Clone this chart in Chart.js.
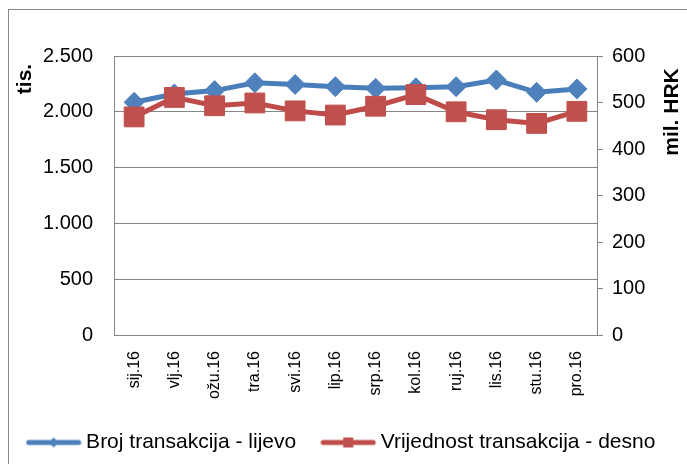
<!DOCTYPE html>
<html>
<head>
<meta charset="utf-8">
<script src="https://cdn.jsdelivr.net/npm/chart.js@4.4.1/dist/chart.umd.min.js"></script>
<style>
  html, body { margin: 0; padding: 0; background: #fff; }
  #wrap { width: 687px; height: 464px; position: relative; }
</style>
</head>
<body>
<div id="wrap"><canvas id="chart" width="687" height="464"></canvas></div>
<script>
// data
const months = ['sij.16', 'vlj.16', 'ožu.16', 'tra.16', 'svi.16', 'lip.16', 'srp.16', 'kol.16', 'ruj.16', 'lis.16', 'stu.16', 'pro.16'];
const brojTransakcija = [2085, 2160, 2190, 2260, 2245, 2225, 2210, 2215, 2225, 2285, 2175, 2205];
const vrijednostTransakcija = [469, 511, 493, 499, 482, 473, 492, 517, 480, 463, 455, 481];
const leftTicks = [0, 500, 1000, 1500, 2000, 2500];
const rightTicks = [0, 100, 200, 300, 400, 500, 600];

const FONT = '"Liberation Sans", Arial, sans-serif';
const GRID = '#868686';
const BLUE_LINE = '#4A7EBB', BLUE_FILL = '#4F81BD';
const RED_LINE = '#BE4B48', RED_FILL = '#C0504D';

function thousands(v) {
    return String(v).replace(/\B(?=(\d{3})+(?!\d))/g, '.');
}

// little line + marker images for the legend (Excel style)
function legendSwatch(color, fill, shape) {
    const c = document.createElement('canvas');
    c.width = 56; c.height = 14;
    const g = c.getContext('2d');
    g.strokeStyle = color;
    g.lineWidth = 5;
    g.lineCap = 'round';
    g.beginPath();
    g.moveTo(3, 7);
    g.lineTo(53, 7);
    g.stroke();
    g.fillStyle = fill;
    g.beginPath();
    if (shape === 'diamond') {
        g.moveTo(28, 2); g.lineTo(33, 7); g.lineTo(28, 12); g.lineTo(23, 7);
    } else {
        g.rect(23, 2, 10, 10);
    }
    g.closePath();
    g.fill();
    return c;
}
const blueSwatch = legendSwatch(BLUE_LINE, BLUE_FILL, 'diamond');
const redSwatch = legendSwatch(RED_LINE, RED_FILL, 'square');

const frame = {
    id: 'frame',
    beforeDraw(chart) {
        const ctx = chart.ctx;
        ctx.save();
        ctx.strokeStyle = GRID;
        ctx.lineWidth = 1;
        ctx.strokeRect(8.5, 9.5, 760, 520);
        ctx.restore();
    }
};

const axisTitles = {
    id: 'axisTitles',
    afterDraw(chart) {
        const ctx = chart.ctx;
        ctx.save();
        ctx.fillStyle = '#000';
        ctx.font = 'bold 21px ' + FONT;
        ctx.textAlign = 'center';
        ctx.textBaseline = 'middle';
        ctx.translate(25, 79);
        ctx.rotate(-Math.PI / 2);
        ctx.fillText('tis.', 0, 0);
        ctx.restore();

        ctx.save();
        ctx.fillStyle = '#000';
        ctx.font = 'bold 21px ' + FONT;
        ctx.textAlign = 'center';
        ctx.textBaseline = 'middle';
        ctx.translate(672, 112);
        ctx.rotate(-Math.PI / 2);
        ctx.fillText('mil. HRK', 0, 0);
        ctx.restore();
    }
};

new Chart(document.getElementById('chart'), {
    type: 'line',
    data: {
        labels: months,
        datasets: [{
            label: 'Broj transakcija - lijevo',
            data: brojTransakcija,
            yAxisID: 'y',
            borderColor: BLUE_LINE,
            backgroundColor: BLUE_FILL,
            borderWidth: 5,
            pointStyle: 'rectRot',
            pointRadius: 10,
            pointBorderWidth: 1,
            pointBorderColor: BLUE_FILL,
            pointBackgroundColor: BLUE_FILL,
            tension: 0,
            order: 2
        }, {
            label: 'Vrijednost transakcija - desno',
            data: vrijednostTransakcija,
            yAxisID: 'y1',
            borderColor: RED_LINE,
            backgroundColor: RED_FILL,
            borderWidth: 5,
            pointStyle: 'rect',
            pointRadius: 14,
            pointBorderWidth: 1,
            pointBorderColor: RED_FILL,
            pointBackgroundColor: RED_FILL,
            tension: 0,
            order: 1
        }]
    },
    options: {
        responsive: false,
        animation: false,
        layout: { padding: { top: 56, bottom: 1 } },
        plugins: {
            tooltip: { enabled: false },
            legend: {
                position: 'bottom',
                labels: {
                    usePointStyle: true,
                    pointStyleWidth: 44,
                    padding: 30,
                    color: '#000',
                    font: { family: FONT, size: 21 },
                    sort: (a, b) => a.datasetIndex - b.datasetIndex,
                    generateLabels(chart) {
                        const items = Chart.defaults.plugins.legend.labels.generateLabels(chart);
                        items.forEach(it => {
                            it.pointStyle = it.datasetIndex === 0 ? blueSwatch : redSwatch;
                        });
                        return items;
                    }
                }
            }
        },
        scales: {
            x: {
                offset: true,
                grid: { drawOnChartArea: false, drawTicks: false },
                border: { display: true, color: GRID, width: 1 },
                ticks: {
                    color: '#000',
                    font: { family: FONT, size: 16 },
                    minRotation: 90,
                    maxRotation: 90,
                    padding: 16,
                    autoSkip: false
                },
                afterFit(scale) { scale.height = 67; }
            },
            y: {
                position: 'left',
                min: 0,
                max: 2500,
                afterBuildTicks(scale) { scale.ticks = leftTicks.map(v => ({ value: v })); },
                grid: { color: GRID, lineWidth: 1, drawTicks: false },
                border: { display: true, color: GRID, width: 1 },
                ticks: {
                    color: '#000',
                    font: { family: FONT, size: 20 },
                    padding: 21,
                    callback: v => thousands(v)
                },
                afterFit(scale) { scale.width = 114; }
            },
            y1: {
                position: 'right',
                min: 0,
                max: 600,
                afterBuildTicks(scale) { scale.ticks = rightTicks.map(v => ({ value: v })); },
                grid: { drawOnChartArea: false, color: GRID, tickLength: 6 },
                border: { display: true, color: GRID, width: 1 },
                ticks: {
                    color: '#000',
                    font: { family: FONT, size: 20 },
                    padding: 9
                },
                afterFit(scale) { scale.width = 90; }
            }
        }
    },
    plugins: [frame, axisTitles]
});
</script>
</body>
</html>
